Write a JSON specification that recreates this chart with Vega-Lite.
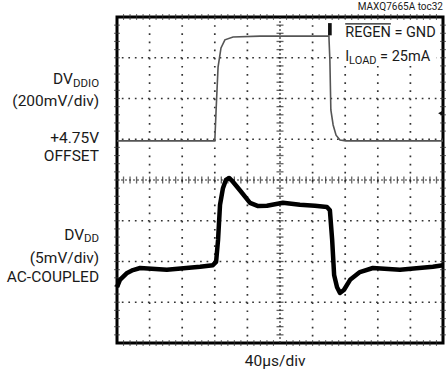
{
  "$schema": "https://vega.github.io/schema/vega-lite/v6.json",
  "width": 326,
  "height": 326,
  "autosize": {"type": "none"},
  "padding": {"left": 117, "top": 17, "right": 4, "bottom": 36},
  "background": "white",
  "config": {
    "view": {"stroke": "black", "strokeWidth": 3},
    "text": {"font": "Roboto", "color": "#1a1a1a"}
  },
  "datasets": {
    "ticks": [
      {"p": 0.2}, {"p": 0.4}, {"p": 0.6}, {"p": 0.8}, {"p": 1.2}, {"p": 1.4}, {"p": 1.6}, {"p": 1.8},
      {"p": 2.2}, {"p": 2.4}, {"p": 2.6}, {"p": 2.8}, {"p": 3.2}, {"p": 3.4}, {"p": 3.6}, {"p": 3.8},
      {"p": 4.2}, {"p": 4.4}, {"p": 4.6}, {"p": 4.8}, {"p": 5.2}, {"p": 5.4}, {"p": 5.6}, {"p": 5.8},
      {"p": 6.2}, {"p": 6.4}, {"p": 6.6}, {"p": 6.8}, {"p": 7.2}, {"p": 7.4}, {"p": 7.6}, {"p": 7.8},
      {"p": 8.2}, {"p": 8.4}, {"p": 8.6}, {"p": 8.8}, {"p": 9.2}, {"p": 9.4}, {"p": 9.6}, {"p": 9.8},
      {"p": 1}, {"p": 2}, {"p": 3}, {"p": 4}, {"p": 6}, {"p": 7}, {"p": 8}, {"p": 9}
    ],
    "gx": [{"p": 1}, {"p": 2}, {"p": 3}, {"p": 4}, {"p": 6}, {"p": 7}, {"p": 8}, {"p": 9}],
    "gy": [{"p": 1}, {"p": 2}, {"p": 3}, {"p": 5}, {"p": 6}, {"p": 7}],
    "ddio": [
      {"x": 0, "y": 4.96}, {"x": 3.0, "y": 4.96}, {"x": 3.04, "y": 5.72}, {"x": 3.1, "y": 6.77},
      {"x": 3.19, "y": 7.24}, {"x": 3.31, "y": 7.44}, {"x": 3.56, "y": 7.51}, {"x": 4.39, "y": 7.53},
      {"x": 6.5, "y": 7.53}, {"x": 6.53, "y": 6.94}, {"x": 6.56, "y": 5.72}, {"x": 6.63, "y": 5.35},
      {"x": 6.72, "y": 5.1}, {"x": 6.84, "y": 4.98}, {"x": 7.02, "y": 4.96}, {"x": 10, "y": 4.96}
    ],
    "dd": [
      {"x": 0, "y": 1.37}, {"x": 0.09, "y": 1.55}, {"x": 0.31, "y": 1.72}, {"x": 0.49, "y": 1.79},
      {"x": 0.71, "y": 1.84}, {"x": 1.53, "y": 1.8}, {"x": 2.55, "y": 1.87}, {"x": 2.94, "y": 1.91},
      {"x": 3.04, "y": 1.99}, {"x": 3.1, "y": 2.53}, {"x": 3.16, "y": 3.39}, {"x": 3.25, "y": 3.8},
      {"x": 3.34, "y": 4.0}, {"x": 3.44, "y": 4.05}, {"x": 3.53, "y": 3.98}, {"x": 3.77, "y": 3.75},
      {"x": 4.08, "y": 3.44}, {"x": 4.33, "y": 3.36}, {"x": 4.6, "y": 3.37}, {"x": 5.09, "y": 3.44},
      {"x": 5.61, "y": 3.39}, {"x": 6.07, "y": 3.37}, {"x": 6.44, "y": 3.34}, {"x": 6.53, "y": 3.26},
      {"x": 6.6, "y": 2.53}, {"x": 6.66, "y": 1.67}, {"x": 6.75, "y": 1.37}, {"x": 6.84, "y": 1.23},
      {"x": 6.96, "y": 1.3}, {"x": 7.15, "y": 1.55}, {"x": 7.45, "y": 1.74}, {"x": 7.85, "y": 1.84},
      {"x": 8.68, "y": 1.8}, {"x": 9.69, "y": 1.87}, {"x": 10, "y": 1.91}
    ]
  },
  "layer": [
    {
      "data": {"name": "gx"},
      "mark": {"type": "rule", "color": "#333", "strokeWidth": 1.7, "strokeDash": [1.7, 6.45]},
      "encoding": {"x": {"field": "p", "type": "quantitative", "scale": {"domain": [0, 10], "nice": false, "zero": false}, "axis": null}}
    },
    {
      "data": {"name": "gy"},
      "mark": {"type": "rule", "color": "#333", "strokeWidth": 1.7, "strokeDash": [1.7, 4.82]},
      "encoding": {"y": {"field": "p", "type": "quantitative", "scale": {"domain": [0, 8], "nice": false, "zero": false}, "axis": null}}
    },
    {
      "data": {"values": [{"x": 6.92, "x2": 9.8, "y": 6.8, "y2": 7.95}]},
      "mark": {"type": "rect", "color": "white"},
      "encoding": {
        "x": {"field": "x", "type": "quantitative", "scale": {"domain": [0, 10]}, "axis": null},
        "x2": {"field": "x2"},
        "y": {"field": "y", "type": "quantitative", "scale": {"domain": [0, 8]}, "axis": null},
        "y2": {"field": "y2"}
      }
    },
    {
      "data": {"values": [{"x": 5}]},
      "mark": {"type": "rule", "color": "#333", "strokeWidth": 1.2, "strokeDash": [2, 2]},
      "encoding": {"x": {"field": "x", "type": "quantitative", "scale": {"domain": [0, 10]}, "axis": null}}
    },
    {
      "data": {"values": [{"y": 4}]},
      "mark": {"type": "rule", "color": "#333", "strokeWidth": 1.2, "strokeDash": [2, 2]},
      "encoding": {"y": {"field": "y", "type": "quantitative", "scale": {"domain": [0, 8]}, "axis": null}}
    },
    {
      "data": {"name": "ticks"},
      "mark": {"type": "tick", "orient": "vertical", "color": "#222", "size": 7, "thickness": 1.3},
      "encoding": {
        "x": {"field": "p", "type": "quantitative", "scale": {"domain": [0, 10]}, "axis": null},
        "y": {"datum": 4, "type": "quantitative", "scale": {"domain": [0, 8]}, "axis": null}
      }
    },
    {
      "data": {"name": "ticks"},
      "transform": [{"filter": "datum.p < 8"}],
      "mark": {"type": "tick", "orient": "horizontal", "color": "#222", "size": 7, "thickness": 1.3},
      "encoding": {
        "y": {"field": "p", "type": "quantitative", "scale": {"domain": [0, 8]}, "axis": null},
        "x": {"datum": 5, "type": "quantitative", "scale": {"domain": [0, 10]}, "axis": null}
      }
    },
    {
      "data": {"name": "ticks"},
      "mark": {"type": "tick", "orient": "vertical", "color": "#333", "size": 6, "thickness": 1.1},
      "encoding": {
        "x": {"field": "p", "type": "quantitative", "scale": {"domain": [0, 10]}, "axis": null},
        "y": {"datum": 8, "type": "quantitative", "scale": {"domain": [0, 8]}, "axis": null}
      }
    },
    {
      "data": {"name": "ticks"},
      "mark": {"type": "tick", "orient": "vertical", "color": "#333", "size": 6, "thickness": 1.1},
      "encoding": {
        "x": {"field": "p", "type": "quantitative", "scale": {"domain": [0, 10]}, "axis": null},
        "y": {"datum": 0, "type": "quantitative", "scale": {"domain": [0, 8]}, "axis": null}
      }
    },
    {
      "data": {"name": "ticks"},
      "transform": [{"filter": "datum.p < 8"}],
      "mark": {"type": "tick", "orient": "horizontal", "color": "#333", "size": 6, "thickness": 1.1},
      "encoding": {
        "y": {"field": "p", "type": "quantitative", "scale": {"domain": [0, 8]}, "axis": null},
        "x": {"datum": 0, "type": "quantitative", "scale": {"domain": [0, 10]}, "axis": null}
      }
    },
    {
      "data": {"name": "ticks"},
      "transform": [{"filter": "datum.p < 8"}],
      "mark": {"type": "tick", "orient": "horizontal", "color": "#333", "size": 6, "thickness": 1.1},
      "encoding": {
        "y": {"field": "p", "type": "quantitative", "scale": {"domain": [0, 8]}, "axis": null},
        "x": {"datum": 10, "type": "quantitative", "scale": {"domain": [0, 10]}, "axis": null}
      }
    },
    {
      "data": {"name": "ddio"},
      "mark": {"type": "line", "color": "#555", "strokeWidth": 1.6, "interpolate": "linear"},
      "encoding": {
        "x": {"field": "x", "type": "quantitative", "scale": {"domain": [0, 10]}, "axis": null},
        "y": {"field": "y", "type": "quantitative", "scale": {"domain": [0, 8]}, "axis": null}
      }
    },
    {
      "data": {"name": "dd"},
      "mark": {"type": "line", "color": "#000", "strokeWidth": 4.5, "strokeJoin": "round"},
      "encoding": {
        "x": {"field": "x", "type": "quantitative", "scale": {"domain": [0, 10]}, "axis": null},
        "y": {"field": "y", "type": "quantitative", "scale": {"domain": [0, 8]}, "axis": null}
      }
    },
    {
      "data": {"values": [
        {"x": -1.35, "y": 6.48, "t": "DV"},
        {"x": -0.55, "y": 5.94, "t": "(200mV/div)"},
        {"x": -0.55, "y": 5.04, "t": "+4.75V"},
        {"x": -0.55, "y": 4.58, "t": "OFFSET"},
        {"x": -1.01, "y": 2.65, "t": "DV"},
        {"x": -0.55, "y": 2.09, "t": "(5mV/div)"},
        {"x": -0.55, "y": 1.63, "t": "AC-COUPLED"}
      ]},
      "mark": {"type": "text", "align": "right", "baseline": "middle", "fontSize": 15.5},
      "encoding": {
        "x": {"field": "x", "type": "quantitative", "scale": {"domain": [0, 10]}, "axis": null},
        "y": {"field": "y", "type": "quantitative", "scale": {"domain": [0, 8]}, "axis": null},
        "text": {"field": "t"}
      }
    },
    {
      "data": {"values": [
        {"x": -1.35, "y": 6.36, "t": "DDIO"},
        {"x": -1.01, "y": 2.54, "t": "DD"}
      ]},
      "mark": {"type": "text", "align": "left", "baseline": "middle", "fontSize": 11.5},
      "encoding": {
        "x": {"field": "x", "type": "quantitative", "scale": {"domain": [0, 10]}, "axis": null},
        "y": {"field": "y", "type": "quantitative", "scale": {"domain": [0, 8]}, "axis": null},
        "text": {"field": "t"}
      }
    },
    {
      "data": {"values": [
        {"x": 7.12, "y": 6.91, "t": "LOAD"}
      ]},
      "mark": {"type": "text", "align": "left", "baseline": "middle", "fontSize": 11},
      "encoding": {
        "x": {"field": "x", "type": "quantitative", "scale": {"domain": [0, 10]}, "axis": null},
        "y": {"field": "y", "type": "quantitative", "scale": {"domain": [0, 8]}, "axis": null},
        "text": {"field": "t"}
      }
    },
    {
      "data": {"values": [
        {"x": 7.0, "y": 7.61, "t": "REGEN = GND"},
        {"x": 7.0, "y": 7.02, "t": "I"},
        {"x": 8.07, "y": 7.02, "t": "= 25mA"}
      ]},
      "mark": {"type": "text", "align": "left", "baseline": "middle", "fontSize": 14.5},
      "encoding": {
        "x": {"field": "x", "type": "quantitative", "scale": {"domain": [0, 10]}, "axis": null},
        "y": {"field": "y", "type": "quantitative", "scale": {"domain": [0, 8]}, "axis": null},
        "text": {"field": "t"}
      }
    },
    {
      "data": {"values": [{"x": 4.85, "y": -0.44, "t": "40µs/div"}]},
      "mark": {"type": "text", "align": "center", "baseline": "middle", "fontSize": 15.5},
      "encoding": {
        "x": {"field": "x", "type": "quantitative", "scale": {"domain": [0, 10]}, "axis": null},
        "y": {"field": "y", "type": "quantitative", "scale": {"domain": [0, 8]}, "axis": null},
        "text": {"field": "t"}
      }
    },
    {
      "data": {"values": [{"x": 10, "y": 8.25, "t": "MAXQ7665A toc32"}]},
      "mark": {"type": "text", "align": "right", "baseline": "middle", "fontSize": 10},
      "encoding": {
        "x": {"field": "x", "type": "quantitative", "scale": {"domain": [0, 10]}, "axis": null},
        "y": {"field": "y", "type": "quantitative", "scale": {"domain": [0, 8]}, "axis": null},
        "text": {"field": "t"}
      }
    },
    {
      "data": {"values": [{"x": 7.0, "x2": 8.4, "y": 7.83}]},
      "mark": {"type": "rule", "color": "#1a1a1a", "strokeWidth": 1.3},
      "encoding": {
        "x": {"field": "x", "type": "quantitative", "scale": {"domain": [0, 10]}, "axis": null},
        "x2": {"field": "x2"},
        "y": {"field": "y", "type": "quantitative", "scale": {"domain": [0, 8]}, "axis": null}
      }
    },
    {
      "data": {"values": [{"x": 6.53, "y": 7.7}]},
      "mark": {"type": "point", "shape": "M-0.3,-1H0.3V1H-0.3Z", "filled": true, "color": "#111", "size": 150, "opacity": 1},
      "encoding": {
        "x": {"field": "x", "type": "quantitative", "scale": {"domain": [0, 10]}, "axis": null},
        "y": {"field": "y", "type": "quantitative", "scale": {"domain": [0, 8]}, "axis": null}
      }
    },
    {
      "data": {"values": [{"x": 9.93, "y": 5.64}]},
      "mark": {"type": "point", "shape": "triangle-left", "filled": true, "color": "#111", "size": 35, "opacity": 1},
      "encoding": {
        "x": {"field": "x", "type": "quantitative", "scale": {"domain": [0, 10]}, "axis": null},
        "y": {"field": "y", "type": "quantitative", "scale": {"domain": [0, 8]}, "axis": null}
      }
    }
  ]
}
